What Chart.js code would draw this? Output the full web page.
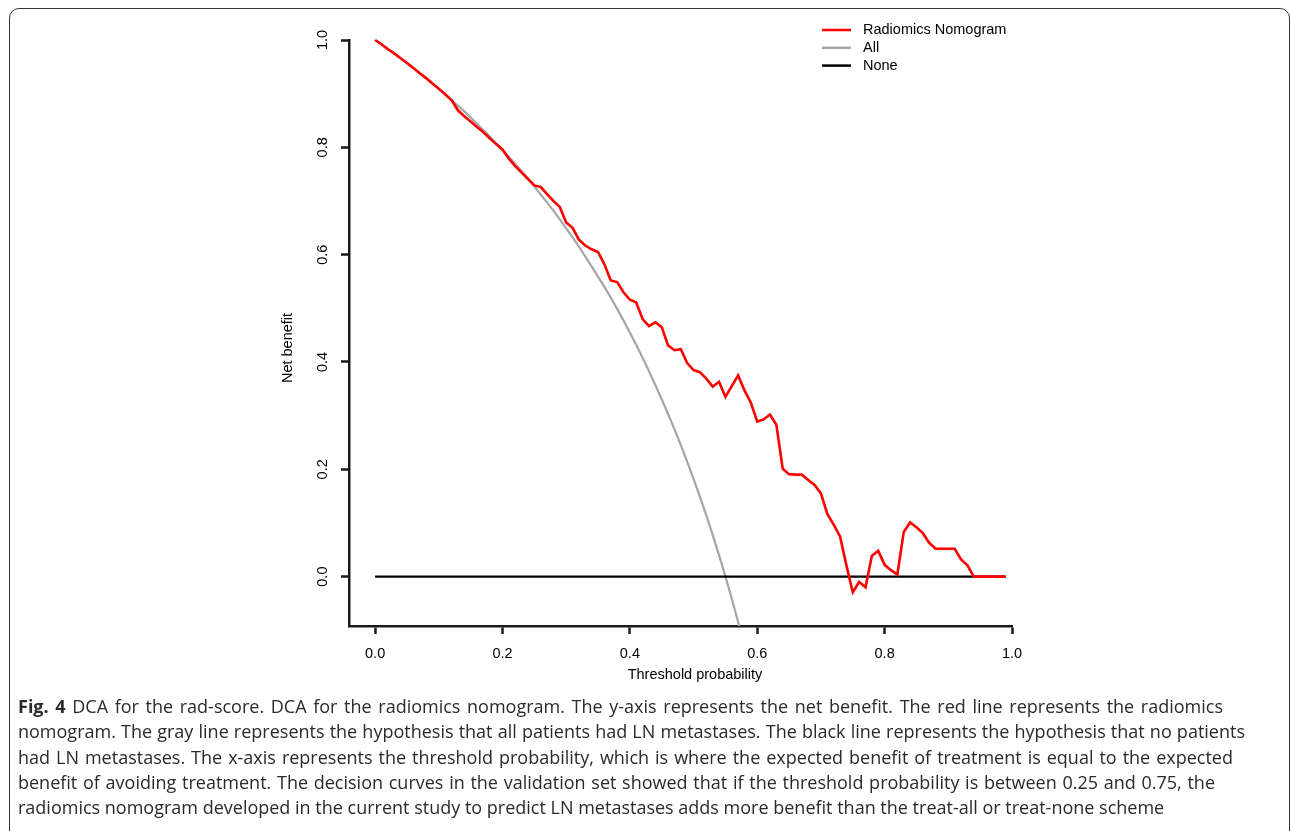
<!DOCTYPE html>
<html>
<head>
<meta charset="utf-8">
<script src="https://cdn.jsdelivr.net/npm/chart.js@4"></script>
<style>
  html, body { margin: 0; padding: 0; background: #fff; overflow: hidden; }
  body { width: 1290px; height: 831px; position: relative; }
  #frame { position: absolute; left: 9px; top: 8px; width: 1281px; height: 900px;
           border: 1.5px solid #333; border-radius: 10px; box-sizing: border-box; }
  #wrap { position: absolute; left: 0; top: 0; width: 1290px; height: 700px; }
  #caption { position: absolute; left: 18px; top: 694px; font-family: "Open Sans", sans-serif;
             font-size: 18px; line-height: 25.3px; color: #2a2a2a; white-space: nowrap; }
  #caption div { text-align: justify; text-align-last: justify; white-space: normal; }
  #caption div.last { text-align-last: left; }
  #caption b { font-weight: 700; }
</style>
</head>
<body>
<div id="frame"></div>
<div id="wrap"><canvas id="dca"></canvas></div>
<div id="caption">
  <div style="width:1205px"><b>Fig. 4</b> DCA for the rad-score. DCA for the radiomics nomogram. The y-axis represents the net benefit. The red line represents the radiomics</div>
  <div style="width:1227px">nomogram. The gray line represents the hypothesis that all patients had LN metastases. The black line represents the hypothesis that no patients</div>
  <div style="width:1215px">had LN metastases. The x-axis represents the threshold probability, which is where the expected benefit of treatment is equal to the expected</div>
  <div style="width:1197px">benefit of avoiding treatment. The decision curves in the validation set showed that if the threshold probability is between 0.25 and 0.75, the</div>
  <div class="last" style="width:1250px">radiomics nomogram developed in the current study to predict LN metastases adds more benefit than the treat-all or treat-none scheme</div>
</div>
<script>
// ── Data ───────────────────────────────────────────────────

const thresholds = [
  0.00, 0.01, 0.02, 0.03, 0.04, 0.05, 0.06, 0.07, 0.08, 0.09,
  0.10, 0.11, 0.12, 0.13, 0.14, 0.15, 0.16, 0.17, 0.18, 0.19,
  0.20, 0.21, 0.22, 0.23, 0.24, 0.25, 0.26, 0.27, 0.28, 0.29,
  0.30, 0.31, 0.32, 0.33, 0.34, 0.35, 0.36, 0.37, 0.38, 0.39,
  0.40, 0.41, 0.42, 0.43, 0.44, 0.45, 0.46, 0.47, 0.48, 0.49,
  0.50, 0.51, 0.52, 0.53, 0.54, 0.55, 0.56, 0.57, 0.58, 0.59,
  0.60, 0.61, 0.62, 0.63, 0.64, 0.65, 0.66, 0.67, 0.68, 0.69,
  0.70, 0.71, 0.72, 0.73, 0.74, 0.75, 0.76, 0.77, 0.78, 0.79,
  0.80, 0.81, 0.82, 0.83, 0.84, 0.85, 0.86, 0.87, 0.88, 0.89,
  0.90, 0.91, 0.92, 0.93, 0.94, 0.95, 0.96, 0.97, 0.98, 0.99
];
const nomogramNB = [
  1.000, 0.992, 0.983, 0.975, 0.966, 0.957, 0.948, 0.938, 0.929, 0.919,
  0.909, 0.899, 0.888, 0.869, 0.858, 0.848, 0.838, 0.828, 0.817, 0.806,
  0.796, 0.779, 0.765, 0.753, 0.741, 0.729, 0.726, 0.713, 0.700, 0.689,
  0.660, 0.650, 0.628, 0.617, 0.610, 0.605, 0.582, 0.552, 0.549, 0.530,
  0.516, 0.511, 0.480, 0.467, 0.474, 0.465, 0.431, 0.422, 0.424, 0.398,
  0.385, 0.381, 0.369, 0.354, 0.363, 0.335, 0.355, 0.375, 0.347, 0.324,
  0.289, 0.293, 0.302, 0.283, 0.201, 0.191, 0.190, 0.190, 0.180, 0.171,
  0.155, 0.117, 0.097, 0.075, 0.021, -0.029, -0.010, -0.020, 0.039, 0.048,
  0.022, 0.012, 0.004, 0.083, 0.101, 0.092, 0.081, 0.063, 0.052, 0.052,
  0.052, 0.052, 0.032, 0.021, 0.000, 0.000, 0.000, 0.000, 0.000, 0.000
];

const allX = [0.00, 0.02, 0.04, 0.06, 0.08, 0.10, 0.12, 0.14, 0.16, 0.18,
              0.20, 0.22, 0.24, 0.26, 0.28, 0.30, 0.32, 0.34, 0.36, 0.38,
              0.40, 0.42, 0.44, 0.46, 0.48, 0.50, 0.52, 0.54, 0.56, 0.58];
const allNB = [1.000, 0.983, 0.966, 0.948, 0.929, 0.909, 0.888, 0.867, 0.844, 0.820,
               0.795, 0.769, 0.742, 0.712, 0.682, 0.649, 0.615, 0.578, 0.540, 0.499,
               0.455, 0.408, 0.357, 0.303, 0.245, 0.182, 0.114, 0.040, -0.041, -0.130];

const noneX = [0.00, 0.99];
const noneNB = [0, 0];

const xTicks = [0.0, 0.2, 0.4, 0.6, 0.8, 1.0];
const yTicks = [0.0, 0.2, 0.4, 0.6, 0.8, 1.0];

const legendItems = [
  { label: 'Radiomics Nomogram', color: '#ff0000' },
  { label: 'All', color: '#a6a6a6' },
  { label: 'None', color: '#000000' },
];

const toPoints = (xs, ys) => xs.map((x, i) => ({ x, y: ys[i] }));

// ── Text overlay (tick labels, titles, legend) ─────────────

const FONT = '14.5px "Liberation Sans", Arial, sans-serif';

const textPlugin = {
  id: 'rtexts',
  afterDraw(chart) {
    const { ctx, scales: { x, y } } = chart;
    ctx.save();
    ctx.fillStyle = '#000';
    ctx.font = FONT;
    ctx.textAlign = 'center';
    ctx.textBaseline = 'middle';

    xTicks.forEach(v => ctx.fillText(v.toFixed(1), x.getPixelForValue(v), 654));

    yTicks.forEach(v => {
      ctx.save();
      ctx.translate(323, y.getPixelForValue(v));
      ctx.rotate(-Math.PI / 2);
      ctx.fillText(v.toFixed(1), 0, 0);
      ctx.restore();
    });

    ctx.fillText('Threshold probability', 695, 675);
    ctx.save();
    ctx.translate(288, 348);
    ctx.rotate(-Math.PI / 2);
    ctx.fillText('Net benefit', 0, 0);
    ctx.restore();

    // legend
    ctx.textAlign = 'left';
    legendItems.forEach((it, i) => {
      const ly = 30 + i * 17.8;
      ctx.strokeStyle = it.color;
      ctx.lineWidth = 2.5;
      ctx.beginPath();
      ctx.moveTo(822, ly);
      ctx.lineTo(851, ly);
      ctx.stroke();
      ctx.fillText(it.label, 863, ly);
    });
    ctx.restore();
  }
};

// ── Chart ──────────────────────────────────────────────────

const axisColor = '#1a1a1a';

function axisOpts(min, max, ticks, fit) {
  return {
    type: 'linear',
    min, max,
    afterBuildTicks: s => { s.ticks = ticks.map(v => ({ value: v })); },
    afterFit: fit,
    ticks: { display: false },
    grid: { drawOnChartArea: false, drawTicks: true, tickLength: 8, tickColor: axisColor, tickWidth: 2.5, color: axisColor },
    border: { display: true, color: axisColor, width: 2.5 },
  };
}

new Chart(document.getElementById('dca'), {
  type: 'line',
  data: {
    datasets: [
      { label: 'Radiomics Nomogram', data: toPoints(thresholds, nomogramNB), borderColor: '#ff0000', borderWidth: 2.6, pointRadius: 0, tension: 0, clip: 4 },
      { label: 'None', data: toPoints(noneX, noneNB), borderColor: '#000000', borderWidth: 2.3, pointRadius: 0, tension: 0 },
      { label: 'All', data: toPoints(allX, allNB), borderColor: '#a6a6a6', borderWidth: 2.2, pointRadius: 0, cubicInterpolationMode: 'monotone' },
    ]
  },
  options: {
    responsive: true,
    maintainAspectRatio: false,
    animation: false,
    layout: { padding: { top: 40, right: 278, left: 0, bottom: 0 } },
    plugins: { legend: { display: false }, tooltip: { enabled: false }, title: { display: false } },
    scales: {
      x: axisOpts(-0.041, 1.0, xTicks, s => { s.height = 74; }),
      y: axisOpts(-0.092, 1.0, yTicks, s => { s.width = 349; }),
    }
  },
  plugins: [textPlugin]
});
</script>
</body>
</html>
